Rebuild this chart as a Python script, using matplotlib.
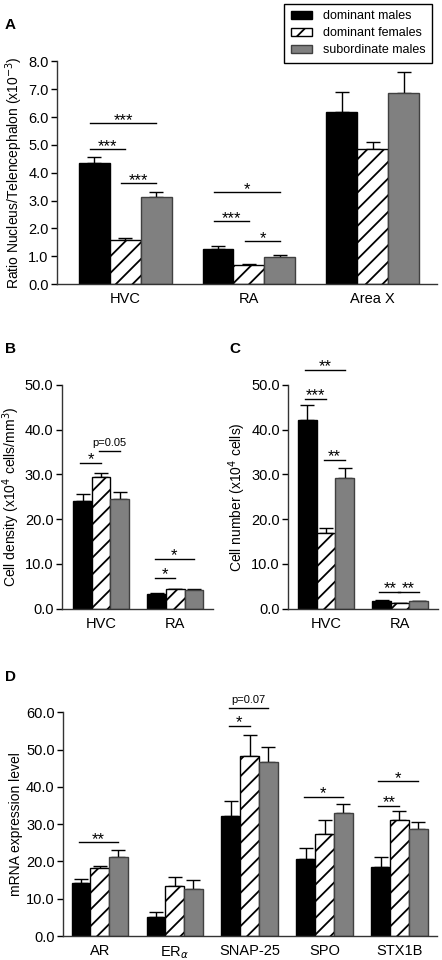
import numpy as np
import matplotlib.pyplot as plt
from matplotlib.patches import Patch

plt.rcParams['font.family'] = ['Liberation Sans', 'DejaVu Sans']
plt.rcParams['hatch.linewidth'] = 1.3

groups = ['dominant males', 'dominant females', 'subordinate males']

# panel A: ratio nucleus / telencephalon (x10^-3)
a_cats = ['HVC', 'RA', 'Area X']
a_mean = [[4.35, 1.28, 6.20], [1.58, 0.70, 4.85], [3.12, 0.98, 6.87]]
a_err = [[0.23, 0.09, 0.72], [0.07, 0.04, 0.27], [0.18, 0.07, 0.75]]
# (category, bar from, bar to, height, label)
a_sig = [(0, 0, 2, 5.78, '***'), (0, 0, 1, 4.84, '***'), (0, 1, 2, 3.62, '***'),
         (1, 0, 2, 3.30, '*'), (1, 0, 1, 2.26, '***'), (1, 1, 2, 1.54, '*')]

# panel B: cell density
b_cats = ['HVC', 'RA']
b_mean = [[24.0, 3.3], [29.4, 4.3], [24.4, 4.1]]
b_err = [[1.6, 0.1], [0.9, 0.1], [1.7, 0.2]]
b_sig = [(0, 0, 1, 32.6, '*'), (0, 1, 2, 35.3, 'p=0.05'),
         (1, 0, 2, 11.2, '*'), (1, 0, 1, 6.9, '*')]

# panel C: cell number
c_cats = ['HVC', 'RA']
c_mean = [[42.1, 1.8], [17.0, 1.2], [29.3, 1.6]]
c_err = [[3.4, 0.1], [1.0, 0.1], [2.2, 0.1]]
c_sig = [(0, 0, 2, 53.3, '**'), (0, 0, 1, 46.9, '***'), (0, 1, 2, 33.3, '**'),
         (1, 0, 1, 3.8, '**'), (1, 1, 2, 3.8, '**')]

# panel D: mRNA expression
d_cats = ['AR', r'ER$_\alpha$', 'SNAP-25', 'SPO', 'STX1B']
d_mean = [[14.3, 5.2, 32.2, 20.6, 18.6],
          [18.2, 13.3, 48.3, 27.4, 31.2],
          [21.2, 12.6, 46.6, 33.0, 28.8]]
d_err = [[1.1, 1.3, 4.1, 2.9, 2.5],
         [0.7, 2.4, 5.6, 3.8, 2.2],
         [1.8, 2.3, 4.2, 2.3, 1.7]]
d_sig = [(0, 0, 2, 25.1, '**'), (2, 0, 2, 61.1, 'p=0.07'), (2, 0, 1, 56.3, '*'),
         (3, 0, 2, 37.4, '*'), (4, 0, 2, 41.5, '*'), (4, 0, 1, 34.9, '**')]

colors = ['black', 'white', '#808080']
edges = ['black', 'black', '#404040']
hatches = [None, '//', None]
w = 0.25


def panel(ax, cats, mean, err, sig, ymax, ylabel, xlim):
    x = np.arange(len(cats))
    for i in range(3):
        pos = x + (i - 1) * w
        ax.bar(pos, mean[i], w, color=colors[i], edgecolor=edges[i],
               hatch=hatches[i], linewidth=1, zorder=2)
        ax.errorbar(pos, mean[i], yerr=[np.zeros(len(cats)), err[i]],
                    fmt='none', ecolor='black', elinewidth=1, capsize=5,
                    capthick=1, zorder=1)
    for c, b1, b2, y, lab in sig:
        x1 = c + (b1 - 1) * w - 0.03
        x2 = c + (b2 - 1) * w + 0.0
        ax.plot([x1, x2], [y, y], color='black', lw=1, clip_on=False)
        if lab.startswith('p'):
            ax.annotate(lab, ((x1 + x2) / 2, y), xytext=(0, 2), textcoords='offset points',
                        ha='center', va='bottom', fontsize=8, annotation_clip=False)
        else:
            ax.annotate(lab, ((x1 + x2) / 2, y), xytext=(0, -1), textcoords='offset points',
                        ha='center', va='baseline', fontsize=12, annotation_clip=False)
    ax.set_xlim(*xlim)
    ax.set_ylim(0, ymax)
    ax.set_xticks(x)
    ax.set_xticklabels(cats, fontsize=10.5)
    ax.tick_params(axis='x', length=0, pad=6)
    ax.tick_params(axis='y', labelsize=10.5, length=4, width=1, pad=2)
    ax.yaxis.set_major_formatter(plt.FormatStrFormatter('%.1f'))
    ax.set_ylabel(ylabel, fontsize=10, labelpad=2)
    for s in ['top', 'right']:
        ax.spines[s].set_visible(False)
    for s in ['left', 'bottom']:
        ax.spines[s].set_color('#333333')
        ax.spines[s].set_linewidth(1)


fig = plt.figure(figsize=(4.42, 9.6), dpi=100)

axA = fig.add_axes([0.129, 0.704, 0.860, 0.232])
panel(axA, a_cats, a_mean, a_err, a_sig, 8, r'Ratio Nucleus/Telencephalon (x10$^{-3}$)', (-0.55, 2.52))
axA.set_yticks(np.arange(0, 8.1, 1))

axB = fig.add_axes([0.140, 0.366, 0.342, 0.233])
panel(axB, b_cats, b_mean, b_err, b_sig, 50, r'Cell density (x10$^4$ cells/mm$^3$)', (-0.53, 1.51))
axB.set_yticks(np.arange(0, 51, 10))

axC = fig.add_axes([0.652, 0.366, 0.339, 0.233])
panel(axC, c_cats, c_mean, c_err, c_sig, 50, r'Cell number (x10$^4$ cells)', (-0.51, 1.51))
axC.set_yticks(np.arange(0, 51, 10))

axD = fig.add_axes([0.1425, 0.025, 0.846, 0.233])
panel(axD, d_cats, d_mean, d_err, d_sig, 60, 'mRNA expression level', (-0.49, 4.5))
axD.set_yticks(np.arange(0, 61, 10))

for lab, px, py in [('A', 10, 25), ('B', 10, 349), ('C', 235, 349), ('D', 10, 677)]:
    fig.text(px / 442, 1 - py / 960, lab, fontsize=11, fontweight='bold', ha='center', va='center')

handles = [Patch(facecolor=colors[i], edgecolor=edges[i], hatch=hatches[i], label=groups[i])
           for i in range(3)]
fig.legend(handles=handles, loc='upper right', bbox_to_anchor=(432 / 442, 1 - 4 / 960),
           fontsize=9, frameon=True, fancybox=False, edgecolor='black', framealpha=1,
           handlelength=1.7, handleheight=0.6, borderpad=0.5, labelspacing=0.4,
           handletextpad=0.9, borderaxespad=0)

fig.savefig('out.png', dpi=100)
